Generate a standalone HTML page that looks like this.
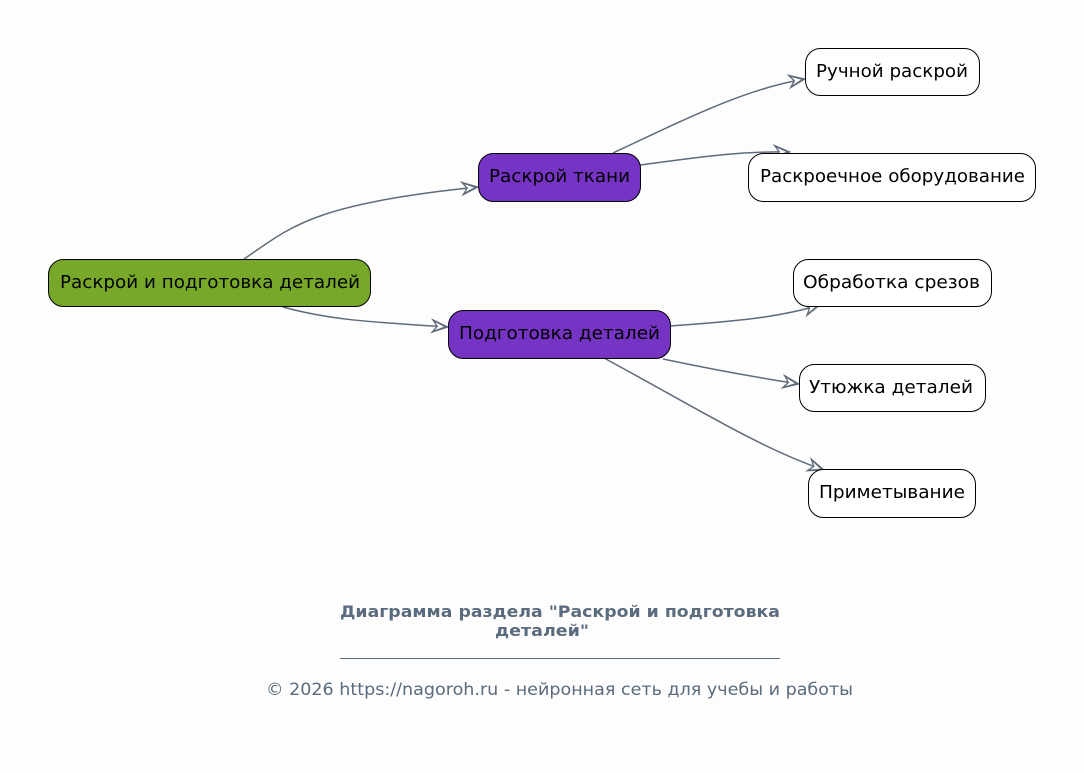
<!DOCTYPE html>
<html><head><meta charset="utf-8">
<style>
html,body{margin:0;padding:0;background:#fdfdfd;}
svg{display:block;}
text{font-family:"DejaVu Sans","Liberation Sans",sans-serif;}
</style></head>
<body>
<svg width="1084" height="773" viewBox="0 0 1084 773" xmlns="http://www.w3.org/2000/svg">
<defs>
<marker id="a" markerWidth="22" markerHeight="16" refX="19" refY="8" orient="auto" markerUnits="userSpaceOnUse">
<path d="M3,1.5 L19,8 L3,14.5 L8,8 z" fill="#5f6b7a" stroke="#5f6b7a" stroke-width="1" stroke-linejoin="miter"/>
<path d="M6,4 L15,8 L6,12 L9,8 z" fill="#fdfdfd"/>
</marker>
</defs>
<rect width="1084" height="773" fill="#fdfdfd"/>
<g fill="none" stroke="#5f6b7a" stroke-width="1.5" marker-end="url(#a)">
<path d="M244,259 C290,228 310,204 478,187"/>
<path d="M283,307 C330,320 370,322 448,327"/>
<path d="M613,153 C700,112 750,88 805,79"/>
<path d="M640,165 C700,157 740,151 790,152"/>
<path d="M670,326 C740,321 780,317 820,305"/>
<path d="M663,359 C720,371 760,378 799,384"/>
<path d="M604,358 C700,410 760,448 824,470"/>
</g>
<g stroke="#000" stroke-width="1">
<rect x="48.5" y="259.5" width="322" height="47" rx="15" fill="#77a82a"/>
<rect x="478.5" y="153.5" width="162" height="48" rx="15" fill="#7634c4"/>
<rect x="448.5" y="310.5" width="222" height="48" rx="15" fill="#7634c4"/>
<rect x="805.5" y="48.5" width="174" height="47" rx="15" fill="#fff"/>
<rect x="748.5" y="153.5" width="287" height="48" rx="15" fill="#fff"/>
<rect x="793.5" y="259.5" width="198" height="47" rx="15" fill="#fff"/>
<rect x="799.5" y="364.5" width="186" height="47" rx="15" fill="#fff"/>
<rect x="808.5" y="469.5" width="167" height="48" rx="15" fill="#fff"/>
</g>
<g font-size="18" fill="#000" lengthAdjust="spacingAndGlyphs">
<text x="60" y="288" textLength="300" lengthAdjust="spacingAndGlyphs">Раскрой и подготовка деталей</text>
<text x="489" y="182" textLength="141" lengthAdjust="spacingAndGlyphs">Раскрой ткани</text>
<text x="459" y="339" textLength="201" lengthAdjust="spacingAndGlyphs">Подготовка деталей</text>
<text x="816" y="77" textLength="152" lengthAdjust="spacingAndGlyphs">Ручной раскрой</text>
<text x="760" y="182" textLength="265" lengthAdjust="spacingAndGlyphs">Раскроечное оборудование</text>
<text x="803" y="288" textLength="177" lengthAdjust="spacingAndGlyphs">Обработка срезов</text>
<text x="809" y="393" textLength="164" lengthAdjust="spacingAndGlyphs">Утюжка деталей</text>
<text x="819" y="498" textLength="146" lengthAdjust="spacingAndGlyphs">Приметывание</text>
</g>
<g fill="#5a6b7d">
<text x="340" y="617" font-size="16" font-weight="bold" textLength="440" lengthAdjust="spacingAndGlyphs">Диаграмма раздела "Раскрой и подготовка</text>
<text x="495" y="636" font-size="16" font-weight="bold" textLength="94" lengthAdjust="spacingAndGlyphs">деталей"</text>
<line x1="340" y1="658.5" x2="780" y2="658.5" stroke="#5a6b7d" stroke-width="1"/>
<text x="266" y="695" font-size="17" textLength="587" lengthAdjust="spacingAndGlyphs">© 2026 https://nagoroh.ru - нейронная сеть для учебы и работы</text>
</g>
</svg>
</body></html>
